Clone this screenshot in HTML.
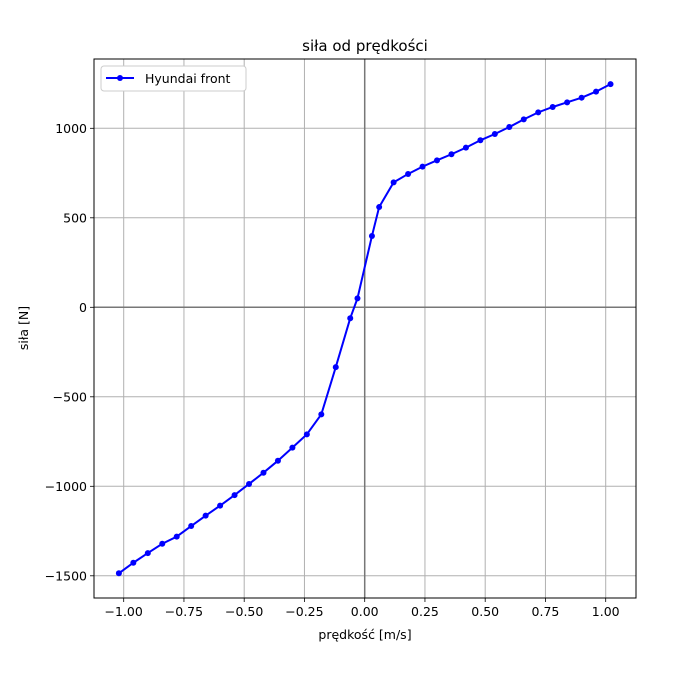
<!DOCTYPE html>
<html><head><meta charset="utf-8"><style>
body{margin:0;background:#fff}
svg{font-family:"DejaVu Sans","Liberation Sans",sans-serif}
</style></head><body>
<svg id="chart" width="699" height="675" xmlns="http://www.w3.org/2000/svg"></svg>
<script>
const xValues=[-1.02,-0.96,-0.90,-0.84,-0.78,-0.72,-0.66,-0.60,-0.54,-0.48,-0.42,-0.36,-0.30,-0.24,-0.18,-0.12,-0.06,-0.03,0.03,0.06,0.12,0.18,0.24,0.30,0.36,0.42,0.48,0.54,0.60,0.66,0.72,0.78,0.84,0.90,0.96,1.02];
const forceValues=[-1486,-1427,-1373,-1321,-1281,-1222,-1164,-1108,-1049,-987,-924,-857,-784,-710,-598,-334,-61,50,398,560,698,745,786,821,855,892,933,968,1007,1050,1089,1119,1145,1171,1205,1247];
const xTicks=[-1.0,-0.75,-0.5,-0.25,0,0.25,0.5,0.75,1.0];
const xTickLabels=["\u22121.00","\u22120.75","\u22120.50","\u22120.25","0.00","0.25","0.50","0.75","1.00"];
const yTicks=[-1500,-1000,-500,0,500,1000];
const yTickLabels=["\u22121500","\u22121000","\u2212500","0","500","1000"];

const L=94,R=636,T=59,B=598;
const X0=364.7,XS=241,Y0=307.3,YS=0.179;
const sx=v=>X0+v*XS, sy=v=>Y0-v*YS;
const svg=document.getElementById('chart');
const NS='http://www.w3.org/2000/svg';
function mk(tag,attrs,parent){const e=document.createElementNS(NS,tag);for(const k in attrs)e.setAttribute(k,attrs[k]);(parent||svg).appendChild(e);return e;}

xTicks.forEach((t,i)=>{
  const x=sx(t);
  const g=mk('line',{x1:x,x2:x,y1:T,y2:B,stroke:'#b0b0b0','stroke-width':1});
  
  
  mk('line',{x1:x,x2:x,y1:B,y2:B+4,stroke:'#000','stroke-width':0.8});
  const tx=mk('text',{x:x,y:B+18,'text-anchor':'middle','font-size':12.5});
  tx.textContent=xTickLabels[i];
  
  
});
yTicks.forEach((t,i)=>{
  const y=sy(t);
  const g=mk('line',{x1:L,x2:R,y1:y,y2:y,stroke:'#b0b0b0','stroke-width':1});
  
  
  mk('line',{x1:L-4,x2:L,y1:y,y2:y,stroke:'#000','stroke-width':0.8});
  const tx=mk('text',{x:L-7,y:y+4.5,'text-anchor':'end','font-size':12.5});
  tx.textContent=yTickLabels[i];
  
  
});
const zx=mk('line',{x1:sx(0),x2:sx(0),y1:T,y2:B,stroke:'#777','stroke-width':1.5});


const zy=mk('line',{x1:L,x2:R,y1:sy(0),y2:sy(0),stroke:'#777','stroke-width':1.5});



const pts=xValues.map((v,i)=>sx(v)+','+sy(forceValues[i])).join(' ');
const line=mk('polyline',{points:pts,fill:'none',stroke:'#0000ff','stroke-width':2});


xValues.forEach((v,i)=>{
  const c=mk('circle',{cx:sx(v),cy:sy(forceValues[i]),r:3,fill:'#0000ff'});
  
  
});

const frame=mk('rect',{x:L,y:T,width:R-L,height:B-T,fill:'none',stroke:'#000','stroke-width':1});



const title=mk('text',{x:(L+R)/2,y:51,'text-anchor':'middle','font-size':15});
title.textContent='siła od prędkości';


const xl=mk('text',{x:(L+R)/2,y:639,'text-anchor':'middle','font-size':12.5});
xl.textContent='prędkość [m/s]';


const yl=mk('text',{x:0,y:0,'text-anchor':'middle','font-size':12.5,transform:'translate(28,328) rotate(-90)'});
yl.textContent='siła [N]';



const lg=mk('g',{});


mk('rect',{x:101,y:66,width:145,height:25,rx:3,fill:'#fff',stroke:'#ccc'},lg);
mk('line',{x1:106,x2:134,y1:78,y2:78,stroke:'#0000ff','stroke-width':2},lg);
mk('circle',{cx:120,cy:78,r:3,fill:'#0000ff'},lg);
const lt=mk('text',{x:145,y:83,'font-size':12.5},lg);
lt.textContent='Hyundai front';


</script>
</body></html>
